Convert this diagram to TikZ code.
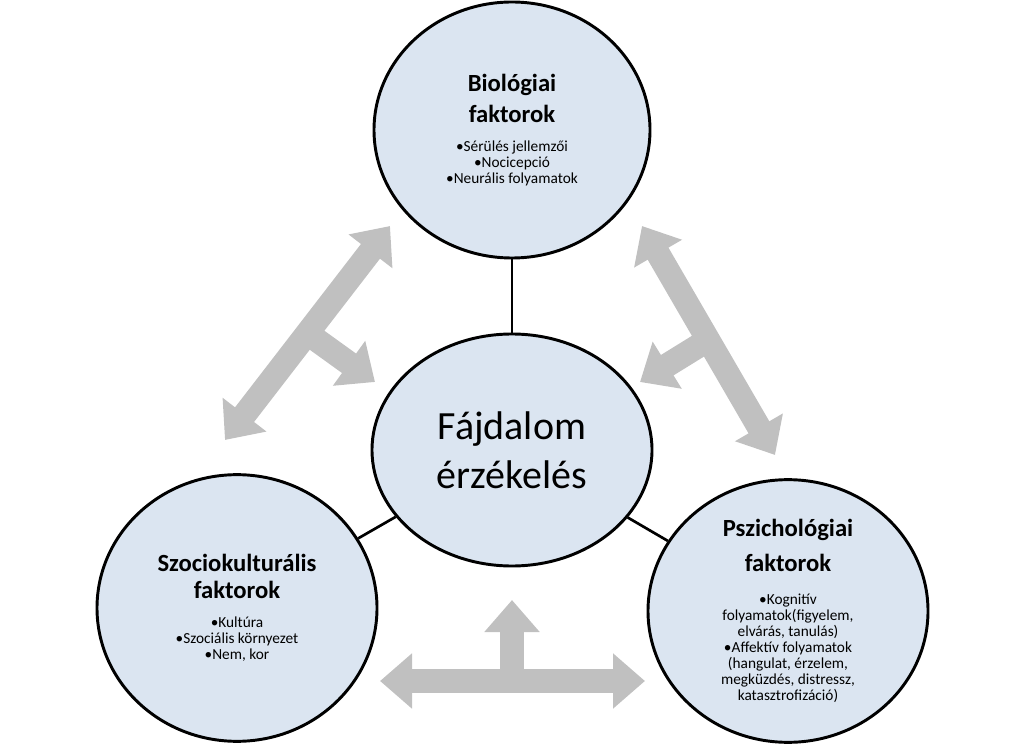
\documentclass[tikz,border=0pt]{standalone}
\usepackage{fontspec}
\setmainfont{Carlito}
\usetikzlibrary{shapes.geometric,arrows.meta}
\newcommand{\titlesize}{\fontsize{18.5}{23}\selectfont\bfseries}
\newcommand{\itemsize}{\fontsize{11.5}{17}\selectfont}
\newcommand{\smallitemsize}{\fontsize{11.5}{13.8}\selectfont}
\definecolor{factorfill}{RGB}{219,229,241}
\definecolor{arrowgray}{RGB}{192,192,192}
\definecolor{arrowedge}{RGB}{150,150,150}
\tikzset{
	factor/.style={ellipse,draw=black,line width=2.2pt,fill=factorfill,align=center,inner sep=0pt},
	fatarrow/.style={line width=18pt,draw=arrowgray,-{Triangle[width=40pt,length=24pt]}},
	fatboth/.style={line width=18pt,draw=arrowgray,{Triangle[width=40pt,length=24pt]}-{Triangle[width=40pt,length=24pt]}}
}
\begin{document}
\begin{tikzpicture}[x=0.75pt,y=-0.75pt]
	\useasboundingbox (0,0) rectangle (1024,748);
	\node (bio) [factor,minimum width=207pt,minimum height=192pt] at (512,130)
		{\titlesize Biológiai\\[6pt] \titlesize faktorok\\[10pt] \itemsize •Sérülés jellemzői\\ \itemsize •Nocicepció\\ \itemsize •Neurális folyamatok};
	\node (pain) [factor,minimum width=210pt,minimum height=174pt,font=\fontsize{30}{37}\selectfont] at (512,450)
		{Fájdalom\\ érzékelés};
	\node (soc) [factor,minimum width=210pt,minimum height=200pt] at (237,608)
		{\titlesize Szociokulturális\\[6pt] \titlesize faktorok\\[10pt] \itemsize •Kultúra\\ \itemsize •Szociális környezet\\ \itemsize •Nem, kor};
	\node (psy) [factor,minimum width=210pt,minimum height=197pt] at (788,611)
		{\titlesize Pszichológiai\\[9pt] \titlesize faktorok\\[13pt] \smallitemsize •Kognitív\\ \smallitemsize folyamatok(figyelem,\\ \smallitemsize elvárás, tanulás)\\ \smallitemsize •Affektív folyamatok\\ \smallitemsize (hangulat, érzelem,\\ \smallitemsize megküzdés, distressz,\\ \smallitemsize katasztrofizáció)};
	% connectors
	\draw[line width=2pt] (bio) -- (pain);
	\draw[line width=2pt] (pain) -- (soc);
	\draw[line width=2pt] (pain) -- (psy);
	% gray arrows
	\coordinate (la) at (225,440);
	\coordinate (lb) at (390,226);
	\coordinate (lm) at (307,333);
	\coordinate (lc) at (375,382);
	\draw[fatboth] (la) -- (lb);
	\draw[fatarrow] (lm) -- (lc);
	\coordinate (ra) at (642,226);
	\coordinate (rb) at (775,455);
	\coordinate (rm) at (708,340);
	\coordinate (rc) at (640,382);
	\draw[fatboth] (ra) -- (rb);
	\draw[fatarrow] (rm) -- (rc);
	\coordinate (ba) at (380,681);
	\coordinate (bb) at (645,681);
	\coordinate (bm) at (512,681);
	\coordinate (bc) at (512,600);
	\draw[fatboth] (ba) -- (bb);
	\draw[fatarrow] (bm) -- (bc);
\end{tikzpicture}
\end{document}
